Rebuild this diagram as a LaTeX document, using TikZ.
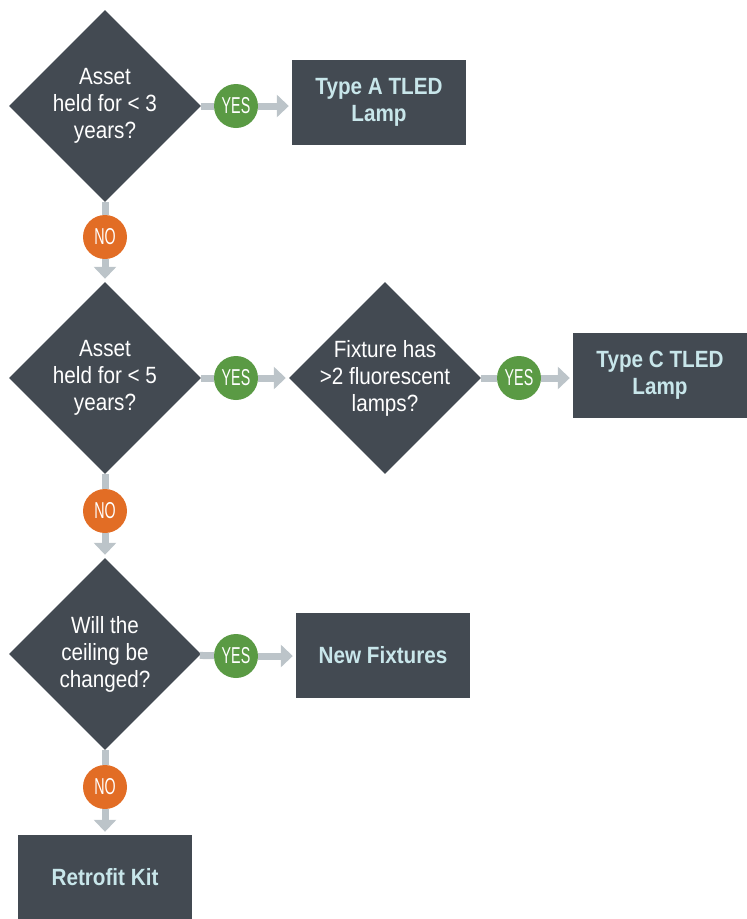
\documentclass[tikz,border=0pt]{standalone}
\usepackage{fontspec}
\setmainfont{Liberation Sans}[FakeStretch=0.88]
\newfontfamily\tagfont{Liberation Sans}[FakeStretch=0.62]
\usepackage{xcolor}
\usepackage{tikz}
\usetikzlibrary{arrows.meta, shapes.geometric}

\definecolor{slate}{HTML}{434A52}
\definecolor{boxtext}{HTML}{C8E6EA}
\definecolor{yesgreen}{HTML}{5A9A44}
\definecolor{noorange}{HTML}{E26D25}
\definecolor{linkgray}{HTML}{BCC4C9}

\begin{document}
\begin{tikzpicture}[x=1pt, y=-1pt,
				question/.style={diamond, fill=slate, text=white, align=center,
					inner sep=-6pt, minimum width=192pt, minimum height=192pt,
					font=\fontsize{23.5}{27}\selectfont},
				answer/.style={rectangle, fill=slate, text=boxtext, align=center,
					minimum width=174pt, minimum height=85pt,
					font=\fontsize{23.5}{27}\selectfont\bfseries},
				yes/.style={circle, fill=yesgreen, text=white, inner sep=0pt,
					minimum size=44pt, font=\tagfont\fontsize{23}{23}\selectfont},
				no/.style={yes, fill=noorange},
				link/.style={draw=linkgray, line width=7pt},
				flow/.style={link, -{Triangle[width=22pt, length=12pt]}, shorten >=3pt}]
				\useasboundingbox (0,0) rectangle (747,919);
				% questions
				\node[question] at (105,106) (q1) {Asset\\held for < 3\\years?};
				\node[question] at (105,378) (q2) {Asset\\held for < 5\\years?};
				\node[question] at (385,378) (q3) {Fixture has\\>2 fluorescent\\lamps?};
				\node[question] at (105,654) (q4) {Will the\\ceiling be\\changed?};
				% outcomes
				\node[answer] at (379,102.5) (a1) {Type A TLED\\Lamp};
				\node[answer] at (660,375) (c1) {Type C TLED\\Lamp};
				\node[answer] at (383,655.5) (f1) {New Fixtures};
				\node[answer] at (105,877.5) (r1) {Retrofit Kit};
				% yes / no tags
				\node[yes] at (236,106) (y1) {YES};
				\node[yes] at (236,378) (y2) {YES};
				\node[yes] at (519,378) (y3) {YES};
				\node[yes] at (236,656) (y4) {YES};
				\node[no] at (105,237) (n1) {NO};
				\node[no] at (105,511) (n2) {NO};
				\node[no] at (105,787) (n3) {NO};
				% connectors
				\draw[link] (q1) -- (y1);
				\draw[flow] (y1) -- (y1 -| a1.west);
				\draw[link] (q1) -- (n1);
				\draw[flow] (n1) -- (q2);
				\draw[link] (q2) -- (y2);
				\draw[flow] (y2) -- (q3);
				\draw[link] (q3) -- (y3);
				\draw[flow] (y3) -- (y3 -| c1.west);
				\draw[link] (q2) -- (n2);
				\draw[flow] (n2) -- (q4);
				\draw[link] (q4) -- (y4);
				\draw[flow] (y4) -- (y4 -| f1.west);
				\draw[link] (q4) -- (n3);
				\draw[flow] (n3) -- (r1);
			\end{tikzpicture}
\end{document}
